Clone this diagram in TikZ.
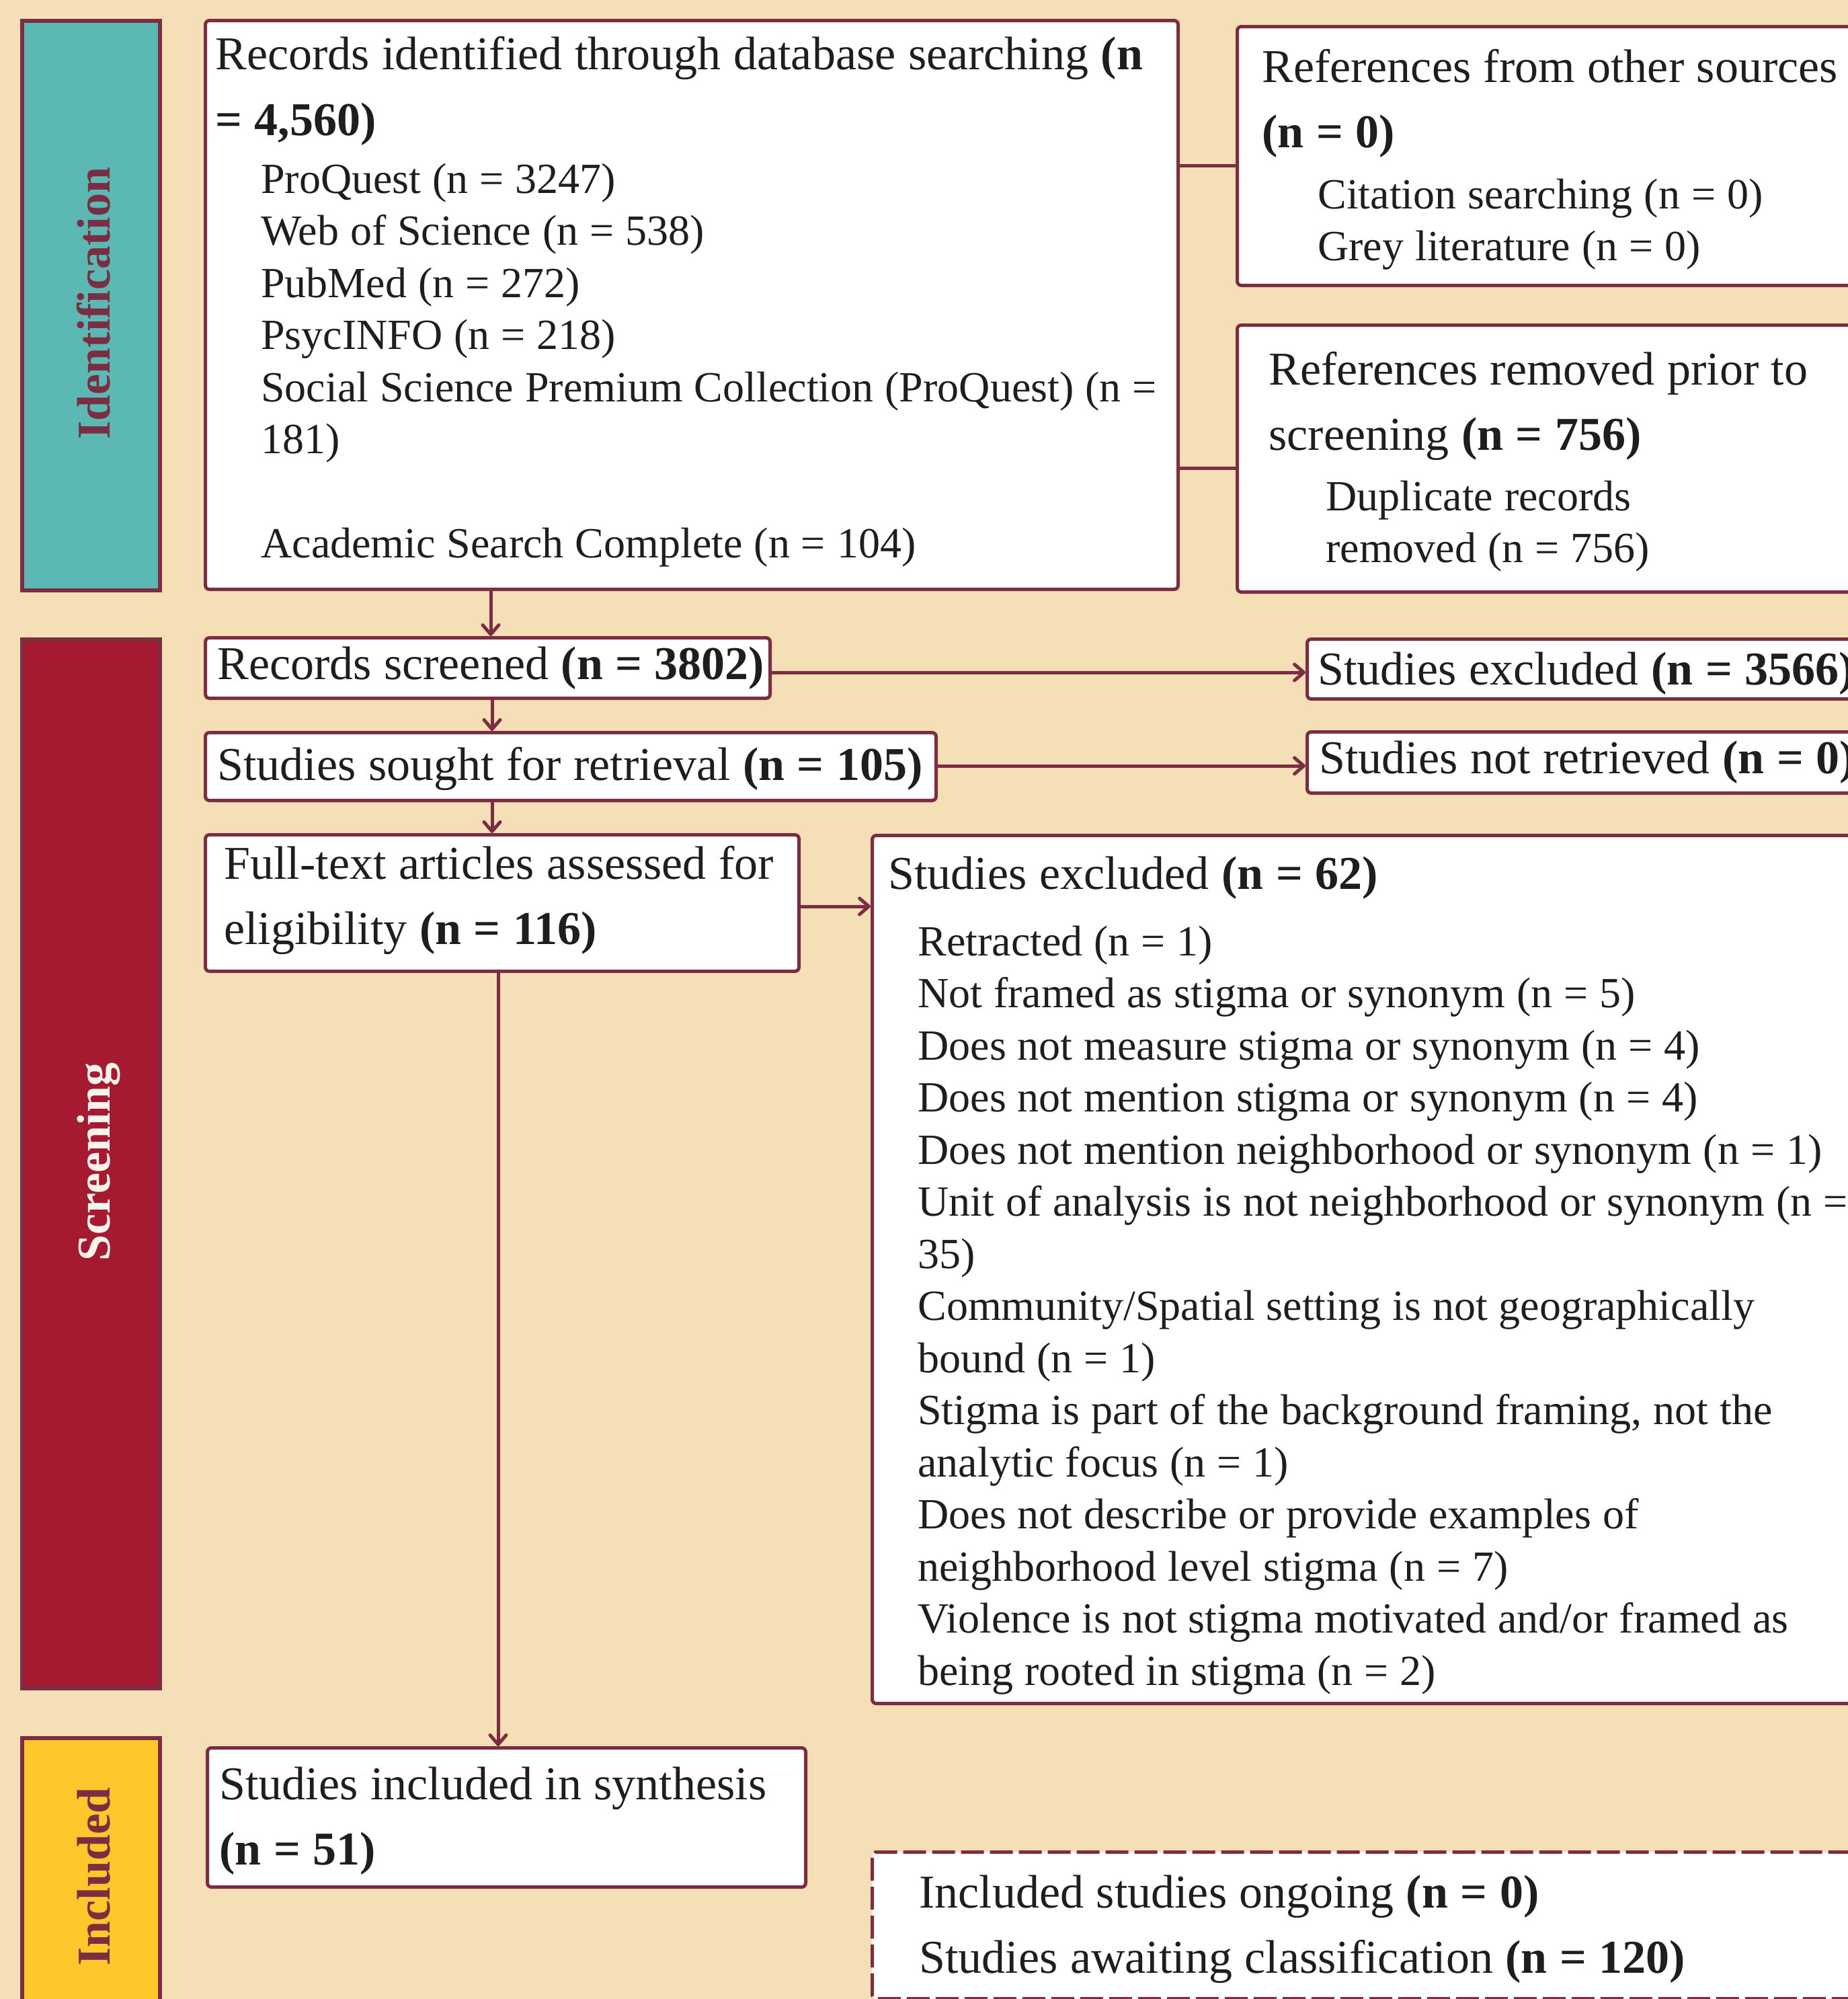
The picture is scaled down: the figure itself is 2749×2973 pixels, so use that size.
\documentclass[tikz,border=0pt]{standalone}
\usepackage{fontspec}
\setmainfont{Liberation Serif}
\usetikzlibrary{arrows.meta}
\definecolor{bgtan}{HTML}{F4DFB7}
\definecolor{maroon}{HTML}{7B2D42}
\definecolor{tealbar}{HTML}{5CB8B3}
\definecolor{crimson}{HTML}{A51A30}
\definecolor{yellowbar}{HTML}{FFC72C}
\definecolor{txt}{HTML}{1E1E1E}
\definecolor{offwhite}{HTML}{F8F4EC}
\newcommand\tightsp{\spaceskip=0.265em plus 0.02em minus 0.02em\relax\xspaceskip=\spaceskip}
\tikzset{
  box/.style={draw=maroon, line width=2.5pt, fill=white, rounded corners=3pt, inner sep=0pt, anchor=north west},
  dbox/.style={box, dash pattern=on 17pt off 4.5pt},
  phase/.style={draw=maroon, line width=3pt, inner sep=0pt, anchor=north west},
  phlabel/.style={rotate=90, anchor=base, inner sep=0pt, font=\fontsize{35}{40}\selectfont\bfseries},
  ttl/.style={anchor=base west, inner sep=0pt, text width=900pt, align=left, text=txt, font=\fontsize{35}{48.75}\selectfont, execute at begin node=\tightsp},
  sub/.style={anchor=base west, inner sep=0pt, text width=900pt, align=left, text=txt, font=\fontsize{32}{38.75}\selectfont, execute at begin node=\tightsp},
  conn/.style={draw=maroon, line width=2.5pt},
  arr/.style={conn, -{Straight Barb[round, length=7pt, width=12pt]}}
}
\begin{document}
\begin{tikzpicture}[x=0.5pt,y=-0.5pt]
\useasboundingbox (0,0) rectangle (2749,2973);
\clip (0,0) rectangle (2749,2973);
\fill[bgtan] (0,0) rectangle (2749,2973);

% phase bars
\node[phase, fill=tealbar, minimum width=102.5pt, minimum height=423.5pt] (p1) at (30,28) {};
\node[phase, fill=crimson, minimum width=102.5pt, minimum height=780pt] (p2) at (30,948) {};
\node[phase, fill=yellowbar, minimum width=102.5pt, minimum height=209pt] (p3) at (30,2582) {};
\node[phlabel, text=maroon] (p1t) at (163,451) {Identification};
\node[phlabel, text=offwhite] (p2t) at (163,1728) {Screening};
\node[phlabel, text=maroon] (p3t) at (163,2791) {Included};

% boxes
\node[box, minimum width=723.5pt, minimum height=423pt] (b1) at (303,28) {};
\node[box, minimum width=481pt, minimum height=192.5pt] (b2) at (1838,37) {};
\node[box, minimum width=481pt, minimum height=198.5pt] (b3) at (1838,481) {};
\node[box, minimum width=420pt, minimum height=45pt] (b4) at (303,946) {};
\node[box, minimum width=543.5pt, minimum height=50.5pt] (b5) at (303,1087) {};
\node[box, minimum width=441.5pt, minimum height=101.5pt] (b6) at (303,1239) {};
\node[box, minimum width=429pt, minimum height=44.5pt] (b7) at (1942,948) {};
\node[box, minimum width=429pt, minimum height=45.5pt] (b8) at (1942,1086) {};
\node[box, minimum width=752.5pt, minimum height=645.5pt] (b9) at (1295,1240) {};
\node[box, minimum width=445pt, minimum height=103.5pt] (b10) at (306,2597) {};
\node[dbox, minimum width=752.5pt, minimum height=109pt] (b11) at (1295,2752) {};

% texts
\node[ttl] (b1t) at (320,103) {Records identified through database searching \textbf{(n}\\[0.25pt]\textbf{= 4,560)}};
\node[sub] (b1s) at (388,287) {ProQuest (n = 3247)\\Web of Science (n = 538)\\PubMed (n = 272)\\PsycINFO (n = 218)\\Social Science Premium Collection (ProQuest) (n =\\181)\\[38.75pt]Academic Search Complete (n = 104)};

\node[ttl] (b2t) at (1877,122) {References from other sources\\\textbf{(n = 0)}};
\node[sub] (b2s) at (1960,310) {Citation searching (n = 0)\\Grey literature (n = 0)};

\node[ttl] (b3t) at (1887,572) {References removed prior to\\screening \textbf{(n = 756)}};
\node[sub] (b3s) at (1972,759) {Duplicate records\\removed (n = 756)};

\node[ttl] (b4t) at (323,1010) {Records screened \textbf{(n = 3802)}};
\node[ttl] (b5t) at (323,1160) {Studies sought for retrieval \textbf{(n = 105)}};
\node[ttl] (b6t) at (333,1307) {Full-text articles assessed for\\eligibility \textbf{(n = 116)}};
\node[ttl] (b7t) at (1960,1018) {Studies excluded \textbf{(n = 3566)}};
\node[ttl] (b8t) at (1962,1150) {Studies not retrieved \textbf{(n = 0)}};

\node[ttl] (b9t) at (1321,1322) {Studies excluded \textbf{(n = 62)}};
\node[sub] (b9s) at (1365,1421) {Retracted (n = 1)\\Not framed as stigma or synonym (n = 5)\\Does not measure stigma or synonym (n = 4)\\Does not mention stigma or synonym (n = 4)\\Does not mention neighborhood or synonym (n = 1)\\Unit of analysis is not neighborhood or synonym (n =\\35)\\Community/Spatial setting is not geographically\\bound (n = 1)\\Stigma is part of the background framing, not the\\analytic focus (n = 1)\\Does not describe or provide examples of\\neighborhood level stigma (n = 7)\\Violence is not stigma motivated and/or framed as\\being rooted in stigma (n = 2)};

\node[ttl] (b10t) at (326,2676) {Studies included in synthesis\\\textbf{(n = 51)}};
\node[ttl] (b11t) at (1367,2837) {Included studies ongoing \textbf{(n = 0)}\\Studies awaiting classification \textbf{(n = 120)}};

% connector helper coordinates
\coordinate (vx1) at (730,0);
\coordinate (vx2) at (732,0);
\coordinate (vx3) at (741,0);
\coordinate (hy1) at (0,1000);
\coordinate (hy2) at (0,1139);
\coordinate (hy3) at (0,1348);
\coordinate (hy4) at (0,246);
\coordinate (hy5) at (0,696);

% connectors
\draw[conn] (b1.east |- hy4) -- (b2.west |- hy4);
\draw[conn] (b1.east |- hy5) -- (b3.west |- hy5);
\draw[arr] (b1.south -| vx1) -- (b4.north -| vx1);
\draw[arr] (b4.south -| vx2) -- (b5.north -| vx2);
\draw[arr] (b5.south -| vx2) -- (b6.north -| vx2);
\draw[arr] (b6.south -| vx3) -- (b10.north -| vx3);
\draw[arr] (b4.east |- hy1) -- (b7.west |- hy1);
\draw[arr] (b5.east |- hy2) -- (b8.west |- hy2);
\draw[arr] (b6.east |- hy3) -- (b9.west |- hy3);
\end{tikzpicture}
\end{document}
